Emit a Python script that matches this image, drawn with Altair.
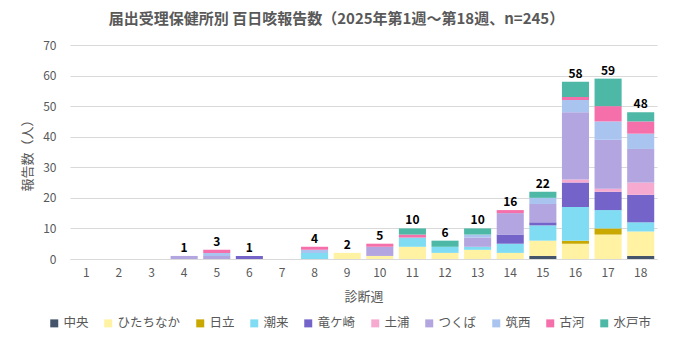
import altair as alt
import pandas as pd

weeks = list(range(1, 19))
offices = ["中央", "ひたちなか", "日立", "潮来", "竜ケ崎", "土浦", "つくば", "筑西", "古河", "水戸市"]
colors = ["#44546a", "#fff2a3", "#c9a800", "#7fdcf2", "#7464c9", "#f7aad0",
          "#b2a5e0", "#aac4f0", "#f56faa", "#4cb8a5"]

chuo        = [0, 0, 0, 0, 0, 0, 0, 0, 0, 0, 0, 0, 0, 0, 1, 0, 0, 1]
hitachinaka = [0, 0, 0, 0, 0, 0, 0, 0, 2, 1, 4, 2, 3, 2, 5, 5, 8, 8]
hitachi     = [0, 0, 0, 0, 0, 0, 0, 0, 0, 0, 0, 0, 0, 0, 0, 1, 2, 0]
itako       = [0, 0, 0, 0, 0, 0, 0, 2, 0, 0, 3, 2, 1, 3, 5, 11, 6, 3]
ryugasaki   = [0, 0, 0, 0, 0, 1, 0, 0, 0, 0, 0, 0, 0, 3, 1, 8, 6, 9]
tsuchiura   = [0, 0, 0, 0, 0, 0, 0, 0, 0, 0, 0, 0, 0, 0, 0, 1, 1, 4]
tsukuba     = [0, 0, 0, 1, 1, 0, 0, 0, 0, 3, 0, 0, 3, 7, 6, 22, 16, 11]
chikusei    = [0, 0, 0, 0, 1, 0, 0, 1, 0, 0, 0, 0, 1, 0, 2, 4, 6, 5]
koga        = [0, 0, 0, 0, 1, 0, 0, 1, 0, 1, 1, 0, 0, 1, 0, 1, 5, 4]
mito        = [0, 0, 0, 0, 0, 0, 0, 0, 0, 0, 2, 2, 2, 0, 2, 5, 9, 3]

series = [chuo, hitachinaka, hitachi, itako, ryugasaki, tsuchiura, tsukuba, chikusei, koga, mito]

rows = []
for i, (name, vals) in enumerate(zip(offices, series)):
    for w, v in zip(weeks, vals):
        rows.append({"week": str(w), "office": name, "idx": i, "count": v})
df = pd.DataFrame(rows)
df_bars = df[df["count"] > 0]

totals = df.groupby("week", sort=False)["count"].sum().reset_index()
totals = totals[totals["count"] > 0]

week_labels = [str(w) for w in weeks]
y_ticks = list(range(0, 71, 10))
FONT = "Noto Sans CJK JP"
GRAY = "#595959"

x_scale = alt.Scale(domain=week_labels, paddingInner=0.17, paddingOuter=0.085)
x_axis = alt.Axis(title="診断週", labelAngle=0, ticks=False, labelPadding=8,
                  domainColor="#d9d9d9", labelColor=GRAY, labelFontSize=12,
                  titleColor=GRAY, titleFontSize=13, titleFontWeight="normal", titlePadding=12,
                  labelFont=FONT, titleFont=FONT)
y_scale = alt.Scale(domain=[0, 70], nice=False)
y_axis = alt.Axis(title="報告数（人）", values=y_ticks, labelOverlap=False, ticks=False, domain=False,
                  gridColor="#d9d9d9", labelColor=GRAY, labelFontSize=12, labelPadding=14,
                  titleColor=GRAY, titleFontSize=13, titleFontWeight="normal", titlePadding=8,
                  labelFont=FONT, titleFont=FONT)

bars = alt.Chart(df_bars).mark_bar().encode(
    x=alt.X("week:N", sort=week_labels, scale=x_scale, axis=x_axis),
    y=alt.Y("count:Q", stack="zero", scale=y_scale, axis=y_axis),
    color=alt.Color("office:N", sort=offices,
                    scale=alt.Scale(domain=offices, range=colors),
                    legend=alt.Legend(title=None, orient="none", direction="horizontal", columns=10,
                                      legendX=-22, legendY=272, symbolType="square", symbolSize=64,
                                      symbolStrokeWidth=0, labelFontSize=12.5, labelColor=GRAY,
                                      labelFont=FONT, columnPadding=13, labelOffset=3)),
    order=alt.Order("idx:Q", sort="ascending"),
)

labels = alt.Chart(totals).mark_text(dy=-8, fontWeight="bold", fontSize=12, color="#000000", font=FONT).encode(
    x=alt.X("week:N", sort=week_labels, scale=x_scale, axis=x_axis),
    y=alt.Y("count:Q", scale=y_scale, axis=y_axis),
    text=alt.Text("count:Q"),
)

chart = alt.layer(bars, labels).properties(
    width=587, height=214,
    autosize=alt.AutoSizeParams(type="none"),
    padding={"left": 70, "top": 45, "right": 23, "bottom": 81},
    title=alt.TitleParams("届出受理保健所別 百日咳報告数（2025年第1週～第18週、n=245）",
                          anchor="middle", dx=-27, offset=12, fontSize=15, fontWeight="bold",
                          color=GRAY, font=FONT),
).configure_view(stroke=None)

chart.save("out.html", embed_options={"renderer": "svg", "actions": False})
